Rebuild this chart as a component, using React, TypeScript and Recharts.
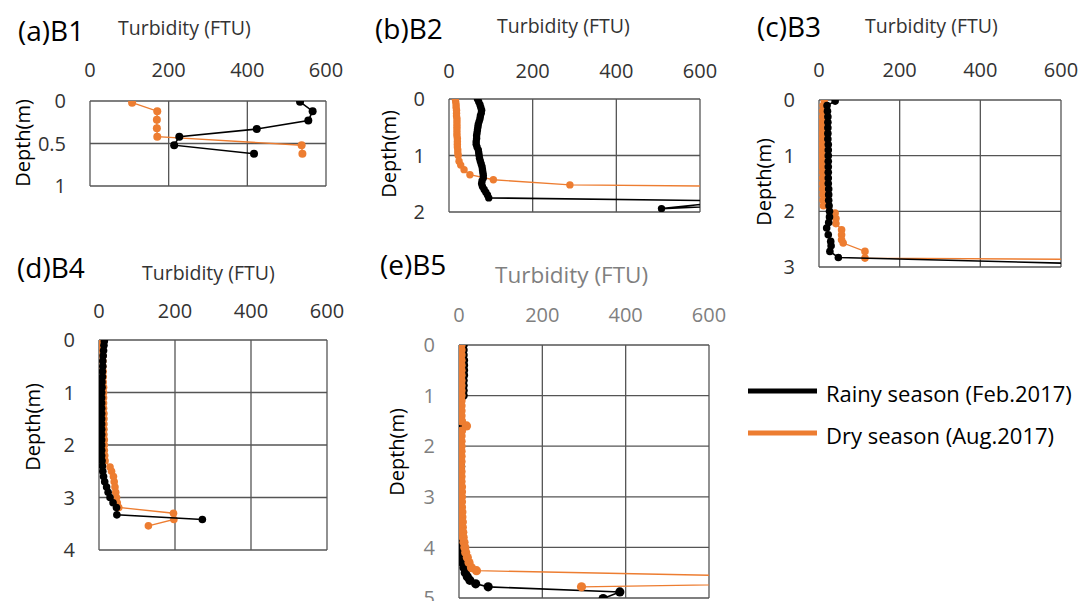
import React from 'react';
import { ScatterChart, Scatter, XAxis, YAxis, CartesianGrid } from 'recharts';

// turbidity (FTU) vs depth (m) profiles
// points beyond 600 FTU are real off-scale readings, clipped by the axis

// (a) B1
const b1RainyDepth = [0.01, 0.12, 0.23, 0.33, 0.42, 0.52, 0.62];
const b1RainyTurb = [534, 566, 555, 424, 227, 214, 417];
const b1DryDepth = [0.02, 0.12, 0.22, 0.32, 0.42, 0.52, 0.62];
const b1DryTurb = [107, 171, 170, 170, 171, 538, 540];

// (b) B2
const b2RainyDepth = [
  0, 0.05, 0.1, 0.15, 0.2, 0.25, 0.3, 0.35, 0.4, 0.45, 0.5, 0.55, 0.6, 0.65, 0.7, 0.75, 0.8, 0.85,
  0.9, 0.95, 1.0, 1.05, 1.1, 1.15, 1.2, 1.25, 1.3, 1.35, 1.4, 1.45, 1.5, 1.55, 1.6, 1.65, 1.7, 1.75,
  1.88, 1.85, 1.94, 1.88,
];
const b2RainyTurb = [
  68, 71, 74, 76, 78, 77, 75, 74, 72, 70, 69, 68, 67, 66, 66, 65, 65, 67,
  70, 71, 72, 73, 75, 77, 79, 80, 81, 82, 82, 79, 78, 80, 84, 88, 92, 95,
  1500, 620, 508, 700,
];
const b2DryDepth = [
  0, 0.05, 0.1, 0.15, 0.2, 0.25, 0.3, 0.35, 0.4, 0.45, 0.5, 0.55, 0.6, 0.65, 0.7, 0.75, 0.8, 0.85,
  0.9, 0.95, 1.0, 1.1, 1.17, 1.25, 1.34, 1.43, 1.52, 1.6,
];
const b2DryTurb = [
  15, 16, 17, 17, 18, 18, 18, 19, 19, 19, 19, 19, 19, 19, 20, 20, 20, 20,
  21, 21, 22, 24, 28, 36, 50, 106, 289, 1500,
];

// (c) B3
const b3RainyDepth = [
  0.02, 0.1, 0.2, 0.3, 0.4, 0.5, 0.6, 0.7, 0.8, 0.9, 1.0, 1.1, 1.2, 1.3, 1.4, 1.5, 1.6, 1.7, 1.8,
  1.9, 2.0, 2.1, 2.2, 2.3, 2.42, 2.54, 2.62, 2.72, 2.83, 3.04,
];
const b3RainyTurb = [
  40, 20, 21, 22, 22, 22, 22, 22, 23, 23, 23, 23, 23, 23, 23, 23, 24, 24, 24,
  25, 26, 26, 24, 19, 23, 29, 30, 27, 48, 1200,
];
const b3DryDepth = [
  0, 0.1, 0.2, 0.3, 0.4, 0.5, 0.6, 0.7, 0.8, 0.9, 1.0, 1.1, 1.2, 1.3, 1.4, 1.5, 1.6, 1.7, 1.8, 1.9,
  2.03, 2.13, 2.22, 2.33, 2.42, 2.51, 2.57, 2.72, 2.84, 2.9,
];
const b3DryTurb = [
  13, 10, 9, 9, 8, 8, 8, 8, 8, 8, 8, 8, 8, 9, 9, 9, 9, 10, 10, 11,
  40, 42, 42, 56, 56, 56, 60, 114, 114, 1500,
];

// (d) B4
const b4RainyDepth = [
  0.02, 0.1, 0.2, 0.3, 0.4, 0.5, 0.6, 0.7, 0.8, 0.9, 1.0, 1.1, 1.2, 1.3, 1.4, 1.5, 1.6, 1.7, 1.8,
  1.9, 2.0, 2.1, 2.2, 2.3, 2.4, 2.5, 2.6, 2.7, 2.8, 2.9, 3.0, 3.1, 3.19, 3.33, 3.42,
];
const b4RainyTurb = [
  14, 13, 12, 11, 10, 10, 9, 9, 8, 8, 7, 7, 7, 7, 7, 7, 7, 7, 7,
  7, 7, 7, 7, 8, 9, 10, 12, 15, 20, 24, 29, 37, 46, 47, 272,
];
const b4DryDepth = [
  0.04, 0.1, 0.2, 0.3, 0.4, 0.5, 0.6, 0.7, 0.8, 0.9, 1.0, 1.1, 1.2, 1.3, 1.4, 1.5, 1.6, 1.7, 1.8,
  1.9, 2.0, 2.1, 2.2, 2.3, 2.42, 2.5, 2.6, 2.7, 2.8, 2.9, 3.0, 3.1, 3.19, 3.3, 3.42, 3.54,
];
const b4DryTurb = [
  5, 8, 9, 10, 10, 10, 11, 11, 11, 12, 12, 12, 12, 12, 13, 13, 13, 13, 13,
  14, 14, 14, 15, 16, 29, 33, 38, 40, 42, 44, 46, 48, 52, 196, 197, 130,
];

// (e) B5
const b5RainyDepth = [
  0, 0.1, 0.2, 0.3, 0.4, 0.5, 0.6, 0.7, 0.8, 0.9, 1.0, 1.1, 1.2, 1.3, 1.4, 1.5, 1.6, 1.7, 1.8, 1.9,
  2.0, 2.1, 2.2, 2.3, 2.4, 2.5, 2.6, 2.7, 2.8, 2.9, 3.0, 3.1, 3.2, 3.3, 3.4, 3.5, 3.6, 3.7, 3.8, 3.9,
  4.0, 4.1, 4.2, 4.3, 4.4, 4.5, 4.58, 4.65, 4.72, 4.78, 4.88, 5.01,
];
const b5RainyTurb = [
  10, 10, 10, 11, 11, 11, 11, 10, 10, 10, 10, 3, 3, 2, 3, 0, 2, 3, 3, 2,
  3, 3, 2, 3, 4, 3, 0, 3, 3, 3, 3, 3, 3, 4, 3, 3, 3, 2, 2, 1,
  2, 3, 5, 8, 12, 15, 20, 26, 40, 70, 386, 346,
];
const b5DryDepth = [
  0, 0.1, 0.2, 0.3, 0.4, 0.5, 0.6, 0.7, 0.8, 0.9, 1.0, 1.1, 1.2, 1.3, 1.4, 1.5, 1.6, 1.7, 1.8, 1.9,
  2.0, 2.1, 2.2, 2.3, 2.4, 2.5, 2.6, 2.7, 2.8, 2.9, 3.0, 3.1, 3.2, 3.3, 3.4, 3.5, 3.6, 3.7, 3.8,
  3.9, 4.0, 4.1, 4.2, 4.3, 4.4, 4.46, 4.655, 4.78,
];
const b5DryTurb = [
  5, 5, 5, 5, 5, 5, 5, 5, 5, 5, 5, 5, 5, 5, 5, 6, 18, 6, 5, 5,
  5, 5, 5, 5, 4, 5, 5, 5, 6, 6, 6, 6, 6, 7, 7, 8, 8, 9, 10,
  12, 14, 16, 20, 24, 30, 42, 1250, 294,
];

const turbTicks = [0, 200, 400, 600];
const legendLabels = ['Rainy season (Feb.2017)', 'Dry season (Aug.2017)'];

const BLACK = '#000000';
const ORANGE = '#ED7D31';
const PAD_L = 70;
const PAD_T = 60;
const PAD_R = 36;
const PAD_B = 16;

type Pt = { t: number; d: number };
const zip = (turb: number[], depth: number[]): Pt[] => turb.map((t, i) => ({ t, d: depth[i] }));

const dot = (r: number, color: string) => (props: any) =>
  <circle cx={props.cx} cy={props.cy} r={r} fill={color} />;

type PanelProps = {
  left: number; top: number; w: number; h: number;
  yMax: number; yTicks: number[]; xGap: number;
  rainy: Pt[]; dry: Pt[]; r: number;
  tickColor: string; dryOnTop?: boolean;
};

const Panel = ({ left, top, w, h, yMax, yTicks, xGap, rainy, dry, r, tickColor, dryOnTop }: PanelProps) => {
  const rainySeries = (
    <Scatter key="rainy" data={rainy} line={{ stroke: BLACK, strokeWidth: 1.6 }} lineType="joint"
      shape={dot(r, BLACK)} isAnimationActive={false} />
  );
  const drySeries = (
    <Scatter key="dry" data={dry} line={{ stroke: ORANGE, strokeWidth: 1.4 }} lineType="joint"
      shape={dot(r, ORANGE)} isAnimationActive={false} />
  );
  return (
    <div style={{ position: 'absolute', left: left - PAD_L, top: top - PAD_T }}>
      <ScatterChart width={w + PAD_L + PAD_R} height={h + PAD_T + PAD_B}
        margin={{ top: 0, right: PAD_R, bottom: PAD_B, left: 0 }}>
        <CartesianGrid stroke="#555" strokeWidth={1.3} />
        <XAxis type="number" dataKey="t" orientation="top" domain={[0, 600]} ticks={turbTicks}
          allowDataOverflow height={PAD_T} axisLine={false} tickLine={false} tickSize={0}
          tickMargin={xGap} tick={{ fontSize: 20, fill: tickColor }} interval={0} />
        <YAxis type="number" dataKey="d" reversed domain={[0, yMax]} ticks={yTicks}
          allowDataOverflow width={PAD_L} axisLine={false} tickLine={false} tickSize={0}
          tickMargin={24} tick={{ fontSize: 20, fill: tickColor }} interval={0} />
        {dryOnTop ? [rainySeries, drySeries] : [drySeries, rainySeries]}
      </ScatterChart>
    </div>
  );
};

const titles = [
  { t: '(a)B1', x: 18, y: 41 },
  { t: '(b)B2', x: 375, y: 39 },
  { t: '(c)B3', x: 757, y: 37 },
  { t: '(d)B4', x: 17, y: 278 },
  { t: '(e)B5', x: 380, y: 275 },
];
const xTitles = [
  { x: 118, y: 35, size: 19.5, color: '#333' },
  { x: 497, y: 33, size: 19.5, color: '#333' },
  { x: 865, y: 33, size: 19.5, color: '#333' },
  { x: 142, y: 280, size: 19.5, color: '#333' },
  { x: 495, y: 283, size: 22.5, color: '#7f7f7f' },
];
const yTitles = [
  { x: 22, y: 143 },
  { x: 388, y: 154 },
  { x: 763, y: 182 },
  { x: 32, y: 427 },
  { x: 396, y: 452 },
];

export default function App() {
  return (
    <div style={{ position: 'absolute', left: 0, top: 0, width: 1091, height: 601, overflow: 'hidden',
      background: '#fff', fontFamily: '"Open Sans", sans-serif' }}>
      <Panel left={90} top={101} w={236} h={85} yMax={1} yTicks={[0, 0.5, 1]} xGap={24}
        rainy={zip(b1RainyTurb, b1RainyDepth)} dry={zip(b1DryTurb, b1DryDepth)} r={4} tickColor="#333" />
      <Panel left={449} top={99} w={251} h={113} yMax={2} yTicks={[0, 1, 2]} xGap={21}
        rainy={zip(b2RainyTurb, b2RainyDepth)} dry={zip(b2DryTurb, b2DryDepth)} r={3.7} tickColor="#333" />
      <Panel left={819} top={100} w={242} h={167} yMax={3} yTicks={[0, 1, 2, 3]} xGap={23}
        rainy={zip(b3RainyTurb, b3RainyDepth)} dry={zip(b3DryTurb, b3DryDepth)} r={3.8} tickColor="#333" />
      <Panel left={99} top={340} w={228} h={210} yMax={4} yTicks={[0, 1, 2, 3, 4]} xGap={22}
        rainy={zip(b4RainyTurb, b4RainyDepth)} dry={zip(b4DryTurb, b4DryDepth)} r={3.8} tickColor="#333" />
      <Panel left={459} top={345} w={250} h={253} yMax={5} yTicks={[0, 1, 2, 3, 4, 5]} xGap={23}
        rainy={zip(b5RainyTurb, b5RainyDepth)} dry={zip(b5DryTurb, b5DryDepth)} r={4.6} tickColor="#7f7f7f"
        dryOnTop />
      <svg width={1091} height={601} style={{ position: 'absolute', left: 0, top: 0, pointerEvents: 'none' }}>
        {titles.map((p) => (
          <text key={p.t} x={p.x} y={p.y} fontSize={28} fill="#000">{p.t}</text>
        ))}
        {xTitles.map((p, i) => (
          <text key={'xt' + i} x={p.x} y={p.y} fontSize={p.size} fill={p.color}>Turbidity (FTU)</text>
        ))}
        {yTitles.map((p, i) => (
          <text key={'yt' + i} x={p.x} y={p.y} fontSize={20} fill="#000" textAnchor="middle"
            dominantBaseline="central" transform={`rotate(-90 ${p.x} ${p.y})`}>Depth(m)</text>
        ))}
        <line x1={748} x2={817} y1={391} y2={391} stroke={BLACK} strokeWidth={5} />
        <line x1={748} x2={817} y1={433} y2={433} stroke={ORANGE} strokeWidth={5} />
        <text x={826} y={393} fontSize={22} fill="#000" dominantBaseline="central">{legendLabels[0]}</text>
        <text x={826} y={435} fontSize={22} fill="#000" dominantBaseline="central">{legendLabels[1]}</text>
      </svg>
    </div>
  );
}
